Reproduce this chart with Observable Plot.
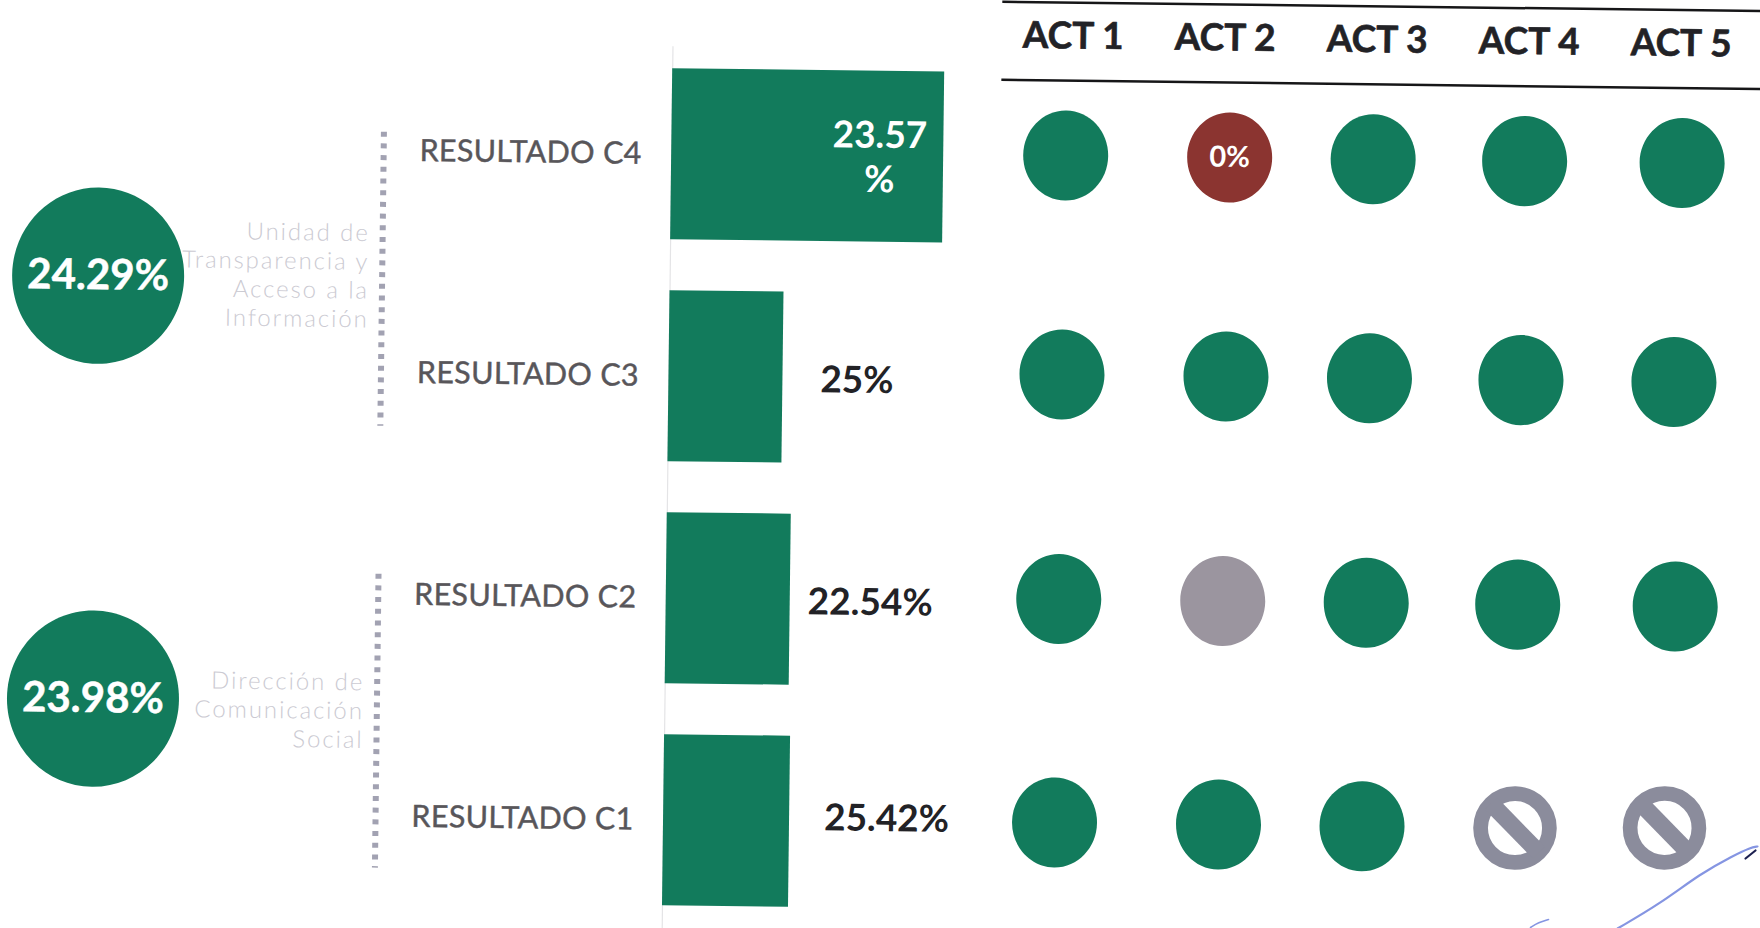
<!DOCTYPE html>
<html>
<head>
<meta charset="utf-8">
<script src="https://cdn.jsdelivr.net/npm/d3@7"></script>
<script src="https://cdn.jsdelivr.net/npm/@observablehq/plot@0.6"></script>
<style>
  html, body { margin: 0; padding: 0; width: 1760px; height: 928px; overflow: hidden; background: #fff; }
  #stage { position: absolute; left: 0; top: 0; width: 1760px; height: 928px; transform-origin: 0 0; transform: rotate(0.7deg); }
  #stage svg, #ink svg { position: absolute; left: 0; top: 0; }
  #ink { position: absolute; left: 0; top: 0; }
  g[aria-label="y-axis tick label"] { stroke: #58565a; stroke-width: 0.45px; letter-spacing: 0.3px; }
</style>
</head>
<body>
<div id="stage"></div>
<div id="ink"></div>
<script>
// ---- data ----
const results = ["RESULTADO C4", "RESULTADO C3", "RESULTADO C2", "RESULTADO C1"];
const resultLabels = ["23.57\n%", "25%", "22.54%", "25.42%"];
// length of each bar as drawn (the source does not draw them in proportion to the label)
const barLengths = [272, 114, 124, 126];

const units = [
  "Unidad de\nTransparencia y\nAcceso a la\nInformación",
  "Dirección de\nComunicación\nSocial"
];
const unitScores = ["24.29%", "23.98%"];

const acts = ["ACT 1", "ACT 2", "ACT 3", "ACT 4", "ACT 5"];
const statusC4 = ["ok", "zero", "ok", "ok", "ok"];
const statusC3 = ["ok", "ok", "ok", "ok", "ok"];
const statusC2 = ["ok", "pending", "ok", "ok", "ok"];
const statusC1 = ["ok", "ok", "ok", "na", "na"];
const zeroLabel = "0%";

// pen strokes on the scan
const inkStrokeA = { x: [1617, 1660, 1700, 1733, 1750, 1757], y: [928, 903, 873, 855, 847, 846] };
const inkStrokeB = { x: [1530, 1538, 1548], y: [927, 922, 919] };
const inkStrokeC = { x: [1745, 1755], y: [858, 850] };

// ---- styling ----
const GREEN = "#127b5c", RED = "#8b3430", MAUVE = "#9b959f", SLATE = "#8b8c9c", INKC = "#222226";
const FONT = "Lato, 'Open Sans', sans-serif";
const base = { width: 1760, height: 928, margin: 0, style: { background: "transparent", maxWidth: "none", overflow: "visible", fontFamily: FONT } };

const oval = (aspect) => ({
  draw(c, size) {
    const r = Math.sqrt(size / Math.PI), h = r * aspect, k = 0.5523;
    c.moveTo(r, 0);
    c.bezierCurveTo(r, k * h, k * r, h, 0, h);
    c.bezierCurveTo(-k * r, h, -r, k * h, -r, 0);
    c.bezierCurveTo(-r, -k * h, -k * r, -h, 0, -h);
    c.bezierCurveTo(k * r, -h, r, -k * h, r, 0);
    c.closePath();
  }
});
const slash = {
  draw(c, size) {
    const d = Math.sqrt(size / Math.PI) * Math.SQRT1_2;
    c.moveTo(-d, -d);
    c.lineTo(d, d);
  }
};

const stage = document.getElementById("stage");

// ---- left panel: unit scores, names, dotted dividers ----
const unitRows = units.map((unit, i) => ({ unit, score: unitScores[i], nudge: i ? -19 : 0, textNudge: i ? -11 : -4 }));
const leftPanel = Plot.plot({
  ...base,
  x: { type: "point", padding: 0, domain: ["score", "divider"], range: [101, 385.5], axis: null },
  y: { type: "band", domain: units, range: [53, 937], paddingInner: 0.335, paddingOuter: 0.1675, axis: null },
  marks: [
    Plot.tickX(unitRows, { x: () => "divider", y: "unit", stroke: "#a2a2b2", strokeWidth: 6, strokeDasharray: "5,6.7" }),
    ...unitRows.map(d => Plot.dot([d], { x: () => "score", y: "unit", r: 86, symbol: oval(1.025), fill: GREEN, dy: d.nudge })),
    ...unitRows.map(d => Plot.text([d], { x: () => "score", y: "unit", text: "score", fill: "white", stroke: "white", strokeWidth: 0.5, fontSize: 42, fontWeight: 700, dy: d.nudge })),
    ...unitRows.map(d => Plot.text([d], { x: () => "divider", y: "unit", text: "unit", textAnchor: "end", dx: -13, dy: d.textNudge, fill: "#cbcad2", fontSize: 24, fontWeight: 300, lineHeight: 1.2 }))
  ]
});
// the unit names are the only multi-line texts here: the source sets them wide
leftPanel.querySelectorAll("text tspan").forEach(t => t.style.letterSpacing = "1.9px");
stage.append(leftPanel);

// ---- bars panel ----
const barRows = results.map((result, i) => ({ result, length: barLengths[i], label: resultLabels[i] }));
const labelGap = [-64, 74, 80, 97];
const labelLift = [-1, 0, 0, -6];
stage.append(Plot.plot({
  ...base,
  marginTop: 38,
  marginBottom: -20,
  marginLeft: 673,
  x: { domain: [0, 270], range: [673, 943], axis: null },
  y: { type: "band", domain: results, range: [34, 922], paddingInner: 0.23, paddingOuter: 0.115, label: null, axis: null },
  marks: [
    Plot.ruleX([0], { stroke: "#e4e4e6", strokeWidth: 1.2 }),
    Plot.barX(barRows, { x: "length", y: "result", fill: GREEN }),
    Plot.axisY({ anchor: "left", tickSize: 0, tickPadding: 30, fontSize: 30.5, fontWeight: 400, color: "#58565a", label: null }),
    ...barRows.map((d, i) => Plot.text([d], {
      x: x => x.length + labelGap[i], y: "result", text: "label", dy: labelLift[i],
      fill: i ? "#222226" : "white", fontSize: 37, fontWeight: 700, lineHeight: 1.2
    }))
  ]
}));

// ---- activity header ----
const header = Plot.plot({
  ...base,
  height: 80,
  width: 1800,
  marginTop: 1,
  marginBottom: 1,
  marginLeft: 1003,
  x: { type: "point", padding: 0, domain: acts, range: [1072, 1681.5], axis: null },
  marks: [
    Plot.frame({ anchor: "top", stroke: "#161618", strokeWidth: 2.5 }),
    Plot.frame({ anchor: "bottom", stroke: "#161618", strokeWidth: 2.5 }),
    Plot.text(acts, { x: d => d, frameAnchor: "middle", dy: -5, text: d => d, fontSize: 37, fontWeight: 700, fill: INKC, stroke: INKC, strokeWidth: 0.6 })
  ]
});
header.style.top = "-12px";
stage.append(header);

// ---- activity dots ----
const statusRows = [statusC4, statusC3, statusC2, statusC1];
const colNudge = [0, 11, 1.5, 0, 0];
const rowNudgeX = [0, -1, -1.5, -3];
const rowNudgeY = [-2, -5, -2.5, -1];
const lastColNudge = [4.5, 0, 4.5, 1];
const cells = results.flatMap((result, r) => acts.map((act, c) => ({
  result, act, status: statusRows[r][c],
  dx: colNudge[c] + rowNudgeX[r] + (c === 4 ? lastColNudge[r] : 0) + (statusRows[r][c] === "na" && c === 3 ? 1.5 : 0) - (statusRows[r][c] === "na" && c === 4 ? 3 : 0),
  dy: rowNudgeY[r] + (statusRows[r][c] === "na" && c === 4 ? -2 : 0)
})));
const cellMarks = d => {
  const at = { x: "act", y: "result", dx: d.dx, dy: d.dy };
  if (d.status === "na") return [
    Plot.dot([d], { ...at, r: 34.4, fill: "none", stroke: SLATE, strokeWidth: 14.7 }),
    Plot.dot([d], { ...at, r: 34.4, symbol: slash, fill: "none", stroke: SLATE, strokeWidth: 17 })
  ];
  const out = [Plot.dot([d], { ...at, r: 42.5, symbol: oval(1.06), fill: "status" })];
  if (d.status === "zero") out.push(Plot.text([d], { ...at, text: () => zeroLabel, fill: "white", fontSize: 29, fontWeight: 700 }));
  return out;
};
stage.append(Plot.plot({
  ...base,
  x: { type: "point", padding: 0, domain: acts, range: [1065, 1680], axis: null },
  y: { type: "point", padding: 0, domain: results, range: [143, 810], axis: null },
  color: { domain: ["ok", "zero", "pending"], range: [GREEN, RED, MAUVE] },
  marks: cells.flatMap(cellMarks)
}));

// ---- pen strokes on the scan ----
const pts = s => s.x.map((x, i) => ({ x, y: s.y[i] }));
document.getElementById("ink").append(Plot.plot({
  ...base,
  x: { domain: [0, 1760], range: [0, 1760], axis: null },
  y: { domain: [0, 928], range: [0, 928], axis: null },
  marks: [
    Plot.line(pts(inkStrokeA), { x: "x", y: "y", stroke: "#8595e2", strokeWidth: 2.2, curve: "basis" }),
    Plot.line(pts(inkStrokeB), { x: "x", y: "y", stroke: "#8595e2", strokeWidth: 1.6, curve: "basis" }),
    Plot.line(pts(inkStrokeC), { x: "x", y: "y", stroke: "#1c2050", strokeWidth: 2.2 })
  ]
}));
</script>
</body>
</html>
